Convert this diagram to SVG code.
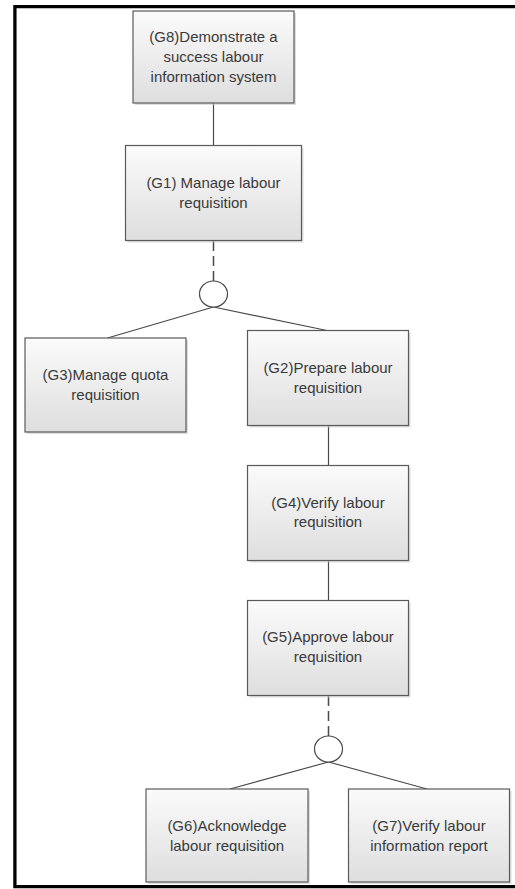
<svg xmlns="http://www.w3.org/2000/svg" width="515" height="889" viewBox="0 0 515 889">
<defs>
<linearGradient id="g" x1="0" y1="0" x2="0" y2="1">
<stop offset="0" stop-color="#fbfbfb"/>
<stop offset="1" stop-color="#dedede"/>
</linearGradient>
<style>
.box{fill:url(#g);stroke:#5a5a5a;stroke-width:1.2}
.sh{fill:#c8c8c8;opacity:0.6}
.t{font-family:"Liberation Sans",Arial,sans-serif;font-size:15px;fill:#3a3a3a;text-anchor:middle}
.c{stroke:#4a4a4a;stroke-width:1.2;fill:none}
.d{stroke:#4a4a4a;stroke-width:1.5;fill:none;stroke-dasharray:10 5}
.or{fill:#fff;stroke:#4a4a4a;stroke-width:1.2}
</style>
</defs>
<rect x="0" y="0" width="515" height="889" fill="#fff"/>
<path d="M515,6.7 H14.9 V886.7 H515" fill="none" stroke="#000" stroke-width="3.3"/>
<g id="connectors">
<line class="c" x1="213.5" y1="103" x2="213.5" y2="146"/>
<line class="d" x1="213.5" y1="241" x2="213.5" y2="281"/>
<line class="c" x1="213.5" y1="307" x2="107.5" y2="338"/>
<line class="c" x1="213.5" y1="307" x2="327" y2="330.5"/>
<line class="c" x1="328.5" y1="425.5" x2="328.5" y2="465.5"/>
<line class="c" x1="328.5" y1="560.5" x2="328.5" y2="600.5"/>
<line class="d" x1="328.5" y1="696" x2="328.5" y2="736"/>
<line class="c" x1="328.5" y1="762" x2="230" y2="789"/>
<line class="c" x1="328.5" y1="762" x2="427" y2="789"/>
<ellipse id="or1" class="or" cx="213.5" cy="294" rx="14" ry="13"/>
<ellipse id="or2" class="or" cx="328.5" cy="749" rx="14" ry="13"/>
</g>
<g id="G8">
<rect class="sh" x="135" y="13" width="161" height="92"/>
<rect class="box" x="133" y="11" width="161" height="92"/>
<text class="t" x="213.5" y="42">(G8)Demonstrate a</text>
<text class="t" x="213.5" y="62">success labour</text>
<text class="t" x="213.5" y="81.5">information system</text>
</g>
<g id="G1">
<rect class="sh" x="127.5" y="147.5" width="176" height="95"/>
<rect class="box" x="125.5" y="145.5" width="176" height="95"/>
<text class="t" x="213.5" y="188">(G1) Manage labour</text>
<text class="t" x="213.5" y="207.5">requisition</text>
</g>
<g id="G3">
<rect class="sh" x="27" y="340" width="161" height="94"/>
<rect class="box" x="25" y="338" width="161" height="94"/>
<text class="t" x="105.5" y="380">(G3)Manage quota</text>
<text class="t" x="105.5" y="399.5">requisition</text>
</g>
<g id="G2">
<rect class="sh" x="249.5" y="332.5" width="161" height="95"/>
<rect class="box" x="247.5" y="330.5" width="161" height="95"/>
<text class="t" x="328" y="373">(G2)Prepare labour</text>
<text class="t" x="328" y="392.5">requisition</text>
</g>
<g id="G4">
<rect class="sh" x="249.5" y="467.5" width="161" height="95"/>
<rect class="box" x="247.5" y="465.5" width="161" height="95"/>
<text class="t" x="328" y="507.5">(G4)Verify labour</text>
<text class="t" x="328" y="527">requisition</text>
</g>
<g id="G5">
<rect class="sh" x="249.5" y="602.5" width="161" height="95"/>
<rect class="box" x="247.5" y="600.5" width="161" height="95"/>
<text class="t" x="328" y="642">(G5)Approve labour</text>
<text class="t" x="328" y="661.5">requisition</text>
</g>
<g id="G6">
<rect class="sh" x="148" y="791" width="162" height="93"/>
<rect class="box" x="146" y="789" width="162" height="93"/>
<text class="t" x="227" y="831">(G6)Acknowledge</text>
<text class="t" x="227" y="850.5">labour requisition</text>
</g>
<g id="G7">
<rect class="sh" x="350.5" y="791" width="161" height="93"/>
<rect class="box" x="348.5" y="789" width="161" height="93"/>
<text class="t" x="429" y="831">(G7)Verify labour</text>
<text class="t" x="429" y="850.5">information report</text>
</g>
</svg>
